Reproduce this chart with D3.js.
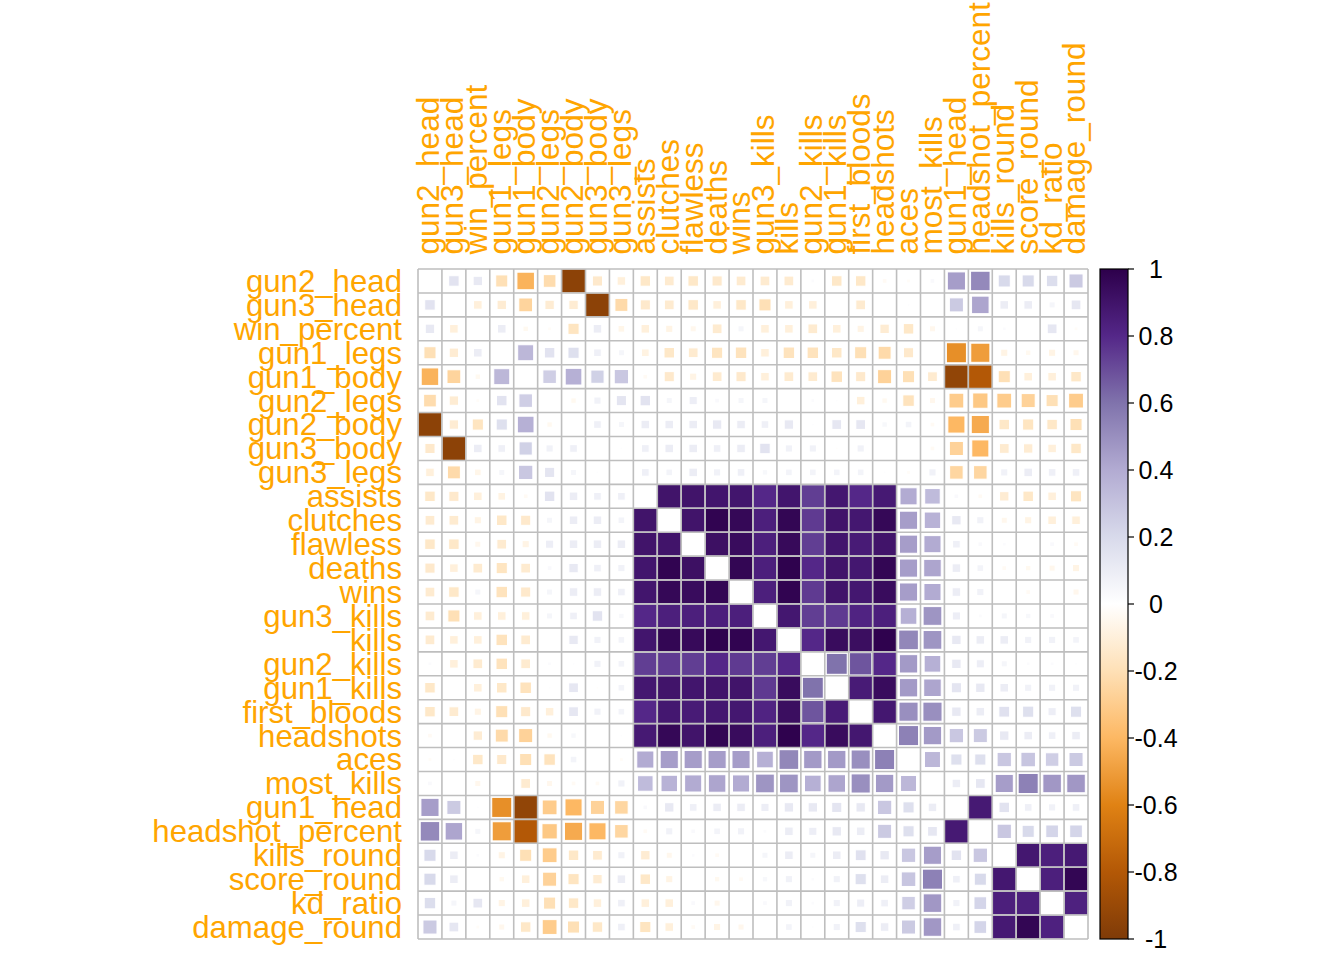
<!DOCTYPE html>
<html>
<head>
<meta charset="utf-8">
<script src="https://cdn.jsdelivr.net/npm/d3@7"></script>
<style>
  html, body { margin: 0; padding: 0; background: #ffffff; }
  svg { display: block; }
</style>
</head>
<body>
<svg id="chart" width="1344" height="960"></svg>
<script>
// ---- variables (row / column order) ----
const variables = ["gun2_head","gun3_head","win_percent","gun1_legs","gun1_body","gun2_legs","gun2_body","gun3_body","gun3_legs","assists","clutches","flawless","deaths","wins","gun3_kills","kills","gun2_kills","gun1_kills","first_bloods","headshots","aces","most_kills","gun1_head","headshot_percent","kills_round","score_round","kd_ratio","damage_round"];

// ---- upper triangle of the correlation matrix: row i lists r(i, j) for j > i ----
const r_gun2_head = [0.15,0.12,-0.2,-0.42,-0.22,-0.95,-0.14,-0.1,-0.15,-0.13,-0.15,-0.14,-0.13,-0.13,-0.13,0.02,-0.15,-0.15,-0.03,-0.02,0.03,0.45,0.52,0.2,0.2,0.18,0.27];
const r_gun3_head = [-0.1,-0.12,-0.26,-0.12,-0.12,-0.95,-0.23,-0.14,-0.13,-0.15,-0.1,-0.15,-0.2,-0.1,-0.1,-0.005,-0.13,0.0,0.01,0.0,0.27,0.42,0.1,0.1,0.05,0.13];
const r_win_percent = [0.1,-0.04,-0.02,-0.17,0.1,-0.06,-0.1,-0.07,-0.05,-0.13,0.05,-0.1,-0.1,-0.13,-0.1,-0.07,-0.12,-0.15,-0.05,0.01,0.05,0.02,-0.005,0.13,-0.02];
const r_gun1_legs = [0.35,0.15,0.17,0.08,0.05,-0.08,-0.15,-0.13,-0.17,-0.18,-0.1,-0.18,-0.18,-0.15,-0.2,-0.23,-0.14,0.0,-0.55,-0.5,-0.07,-0.04,-0.07,-0.05];
const r_gun1_body = [0.25,0.38,0.24,0.28,-0.03,-0.14,-0.07,-0.13,-0.14,-0.1,-0.13,-0.13,-0.18,-0.14,-0.27,-0.2,-0.13,-0.93,-0.8,-0.2,-0.1,-0.1,-0.15];
const r_gun2_legs = [-0.04,0.07,0.14,0.15,0.05,0.09,0.03,0.05,0.05,0.0,0.02,0.01,-0.1,-0.04,-0.18,-0.05,-0.3,-0.32,-0.3,-0.27,-0.2,-0.3];
const r_gun2_body = [0.08,0.05,0.1,0.1,0.1,0.12,0.1,0.08,0.12,0.01,0.13,0.13,0.04,0.06,-0.03,-0.4,-0.45,-0.15,-0.17,-0.15,-0.2];
const r_gun3_body = [0.01,0.08,0.1,0.1,0.08,0.1,0.15,0.07,0.07,-0.01,0.07,0.0,0.005,-0.03,-0.27,-0.4,-0.13,-0.12,-0.1,-0.15];
const r_gun3_legs = [0.08,0.06,0.1,0.07,0.08,0.04,0.06,0.06,0.06,0.06,0.01,-0.02,0.07,-0.25,-0.25,0.07,0.1,0.08,0.08];
const r_assists = [0.9,0.9,0.89,0.89,0.8,0.89,0.74,0.88,0.8,0.87,0.4,0.33,0.03,-0.03,-0.12,-0.15,-0.1,-0.17];
const r_clutches = [0.9,0.98,0.96,0.84,0.97,0.75,0.9,0.88,0.96,0.45,0.37,0.12,0.07,-0.05,-0.07,-0.1,-0.1];
const r_flawless = [0.92,0.94,0.84,0.95,0.74,0.89,0.86,0.9,0.45,0.4,0.08,0.03,0.02,0.0,0.03,-0.03];
const r_deaths = [0.97,0.84,0.99,0.8,0.9,0.88,0.97,0.45,0.42,0.1,0.06,-0.03,-0.04,-0.05,-0.07];
const r_wins = [0.84,0.98,0.75,0.9,0.88,0.94,0.45,0.4,0.1,0.07,0.0,-0.03,0.0,-0.05];
const r_gun3_kills = [0.88,0.74,0.75,0.82,0.84,0.38,0.48,0.09,0.02,0.05,0.04,0.03,0.0];
const r_kills = [0.8,0.94,0.93,0.99,0.53,0.48,0.12,0.1,0.1,0.07,0.07,0.06];
const r_gun2_kills = [0.6,0.68,0.8,0.46,0.38,0.12,0.09,0.05,0.02,0.02,0.01];
const r_gun1_kills = [0.86,0.94,0.46,0.42,0.14,0.12,0.1,0.07,0.07,0.07];
const r_first_bloods = [0.88,0.5,0.5,0.12,0.1,0.16,0.17,0.09,0.17];
const r_headshots = [0.55,0.46,0.28,0.27,0.12,0.1,0.08,0.1];
const r_aces = [0.35,0.17,0.17,0.28,0.29,0.25,0.27];
const r_most_kills = [0.1,0.13,0.45,0.55,0.47,0.47];
const r_gun1_head = [0.87,0.15,0.08,0.07,0.08];
const r_headshot_percent = [0.28,0.2,0.22,0.22];
const r_kills_round = [0.88,0.84,0.87];
const r_score_round = [0.84,0.97];
const r_kd_ratio = [0.83];

const upperRows = [r_gun2_head,r_gun3_head,r_win_percent,r_gun1_legs,r_gun1_body,r_gun2_legs,r_gun2_body,r_gun3_body,r_gun3_legs,r_assists,r_clutches,r_flawless,r_deaths,r_wins,r_gun3_kills,r_kills,r_gun2_kills,r_gun1_kills,r_first_bloods,r_headshots,r_aces,r_most_kills,r_gun1_head,r_headshot_percent,r_kills_round,r_score_round,r_kd_ratio];

// colour legend ticks and labels
const legendTicks = [1,0.8,0.6,0.4,0.2,0,-0.2,-0.4,-0.6,-0.8,-1];
const legendLabels = ["1","0.8","0.6","0.4","0.2","0","-0.2","-0.4","-0.6","-0.8","-1"];
const paletteColors = ['#7F3B08','#B35806','#E08214','#FDB863','#FEE0B6','#FFFFFF','#D8DAEB','#B2ABD2','#8073AC','#542788','#2D004B'];

// ---- build symmetric matrix ----
const n = variables.length;
const cells = [];
for (let i = 0; i < n; i++) {
  for (let j = 0; j < n; j++) {
    if (i === j) continue;
    const a = Math.min(i, j), b = Math.max(i, j);
    const v = upperRows[a][b - a - 1];
    cells.push({row: variables[i], col: variables[j], r: v});
  }
}

// ---- layout ----
const svg = d3.select("#chart");
const x0 = 418, y0 = 269, size = 670;
const x = d3.scaleBand().domain(variables).range([x0, x0 + size]).padding(0);
const y = d3.scaleBand().domain(variables).range([y0, y0 + size]).padding(0);
const bw = x.bandwidth();
const color = d3.scaleLinear()
  .domain(d3.range(11).map(k => -1 + k * 0.2))
  .range(paletteColors)
  .interpolate(d3.interpolateRgb)
  .clamp(true);
const side = d3.scaleSqrt().domain([0, 1]).range([0, 1.13 * bw]);

// background cells
svg.append("g").selectAll("rect")
  .data(d3.cross(variables, variables))
  .join("rect")
  .attr("x", d => x(d[1])).attr("y", d => y(d[0]))
  .attr("width", bw).attr("height", bw)
  .attr("fill", "#ffffff");

// squares
svg.append("g").selectAll("rect")
  .data(cells)
  .join("rect")
  .each(function(d) {
    const s = Math.min(bw, side(Math.abs(d.r)));
    const cx = x(d.col) + bw / 2, cy = y(d.row) + bw / 2;
    d3.select(this)
      .attr("x", cx - s / 2).attr("y", cy - s / 2)
      .attr("width", s).attr("height", s);
  })
  .attr("fill", d => color(d.r))
  .attr("stroke", "#ffffff")
  .attr("stroke-width", 1);

// grid
const grid = svg.append("g").attr("stroke", "#BEBEBE").attr("stroke-width", 1.6).attr("fill", "none");
grid.selectAll("line.v")
  .data(d3.range(n + 1))
  .join("line").attr("class", "v")
  .attr("x1", k => x0 + k * bw).attr("x2", k => x0 + k * bw)
  .attr("y1", y0).attr("y2", y0 + size);
grid.selectAll("line.h")
  .data(d3.range(n + 1))
  .join("line").attr("class", "h")
  .attr("y1", k => y0 + k * bw).attr("y2", k => y0 + k * bw)
  .attr("x1", x0).attr("x2", x0 + size);

// labels
const fontFam = "'Liberation Sans', Arial, sans-serif";
svg.append("g").selectAll("text")
  .data(variables)
  .join("text")
  .attr("x", 402)
  .attr("y", d => y(d) + bw / 2)
  .attr("dy", "0.35em")
  .attr("text-anchor", "end")
  .attr("font-family", fontFam)
  .attr("font-size", 31.2)
  .attr("fill", "#FFA500")
  .text(d => d);

svg.append("g").selectAll("text")
  .data(variables)
  .join("text")
  .attr("transform", d => `translate(${x(d) + bw / 2},254.5) rotate(-90)`)
  .attr("dy", "0.3em")
  .attr("text-anchor", "start")
  .attr("font-family", fontFam)
  .attr("font-size", 31.5)
  .attr("fill", "#FFA500")
  .text(d => d);

// colour legend
const lx = 1100, lw = 28;
const ly = d3.scaleLinear().domain([1, -1]).range([y0, y0 + size]);
const defs = svg.append("defs");
const grad = defs.append("linearGradient").attr("id", "cbar")
  .attr("x1", 0).attr("y1", 1).attr("x2", 0).attr("y2", 0);
grad.selectAll("stop")
  .data(paletteColors)
  .join("stop")
  .attr("offset", (d, k) => k / (paletteColors.length - 1))
  .attr("stop-color", d => d);
svg.append("rect")
  .attr("x", lx).attr("y", ly(1)).attr("width", lw).attr("height", ly(-1) - ly(1))
  .attr("fill", "url(#cbar)")
  .attr("stroke", "#000").attr("stroke-width", 1.2);
const lg = svg.append("g");
lg.selectAll("line")
  .data(legendTicks)
  .join("line")
  .attr("x1", lx + lw).attr("x2", lx + lw + 6)
  .attr("y1", d => ly(d)).attr("y2", d => ly(d))
  .attr("stroke", "#000").attr("stroke-width", 1.2);
lg.selectAll("text")
  .data(legendTicks)
  .join("text")
  .attr("x", 1156)
  .attr("y", d => ly(d))
  .attr("dy", "0.35em")
  .attr("text-anchor", "middle")
  .attr("font-family", fontFam)
  .attr("font-size", 25)
  .attr("fill", "#000")
  .text((d, k) => legendLabels[k]);
</script>
</body>
</html>
